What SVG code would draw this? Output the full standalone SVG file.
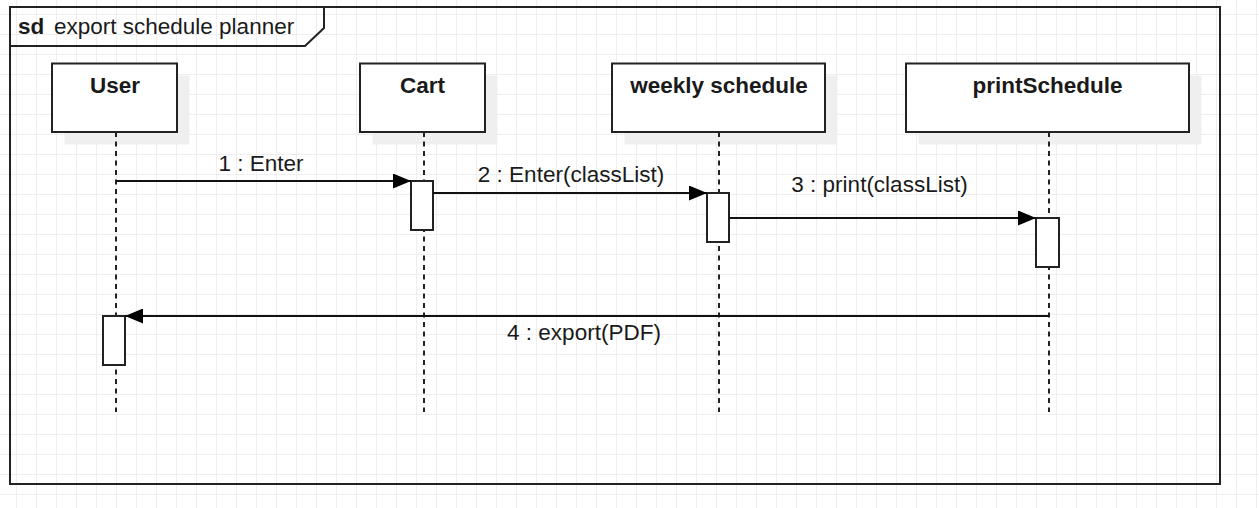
<svg xmlns="http://www.w3.org/2000/svg" width="1259" height="508" viewBox="0 0 1259 508">
  <style>
    .txt { font-family: "Liberation Sans", Arial, sans-serif; fill: #1a1a1a; }
    .head { font-size: 22.5px; font-weight: bold; text-anchor: middle; }
    .msg { font-size: 22.5px; text-anchor: middle; }
    .box { fill: #ffffff; stroke: #222222; stroke-width: 2; }
    .shadow { fill: #efefef; stroke: none; }
    .life { stroke: #222222; stroke-width: 2; stroke-dasharray: 5 4.5; fill: none; }
    .act { fill: #ffffff; stroke: #222222; stroke-width: 2; }
    .line { stroke: #111111; stroke-width: 2; fill: none; }
    .frame { fill: none; stroke: #222222; stroke-width: 2; }
  </style>
  <defs>
    <pattern id="grid" patternUnits="userSpaceOnUse" x="16" y="14" width="20" height="20">
      <path d="M0.5 0 V20 M0 0.5 H20" stroke="#eeeeee" stroke-width="1" fill="none"/>
    </pattern>
    <marker id="arrow" markerUnits="userSpaceOnUse" markerWidth="18" markerHeight="15" refX="18" refY="7.5" orient="auto">
      <path d="M0 0 L18 7.5 L0 15 Z" fill="#000000"/>
    </marker>
  </defs>
  <rect x="0" y="0" width="1259" height="508" fill="#ffffff"/>
  <rect x="0" y="0" width="1259" height="508" fill="url(#grid)"/>

  <g id="frame">
    <rect class="frame" x="10" y="7" width="1210" height="477"/>
    <path class="frame" d="M10 46 H305 L324 28 V7"/>
    <text class="txt" x="18" y="33.5" font-size="22.5" font-weight="bold">sd</text>
    <text class="txt" x="54" y="33.5" font-size="22.5">export schedule planner</text>
  </g>

  <g id="user">
    <rect class="shadow" x="64.5" y="75.5" width="125" height="69"/>
    <line class="life" x1="116" y1="132" x2="116" y2="412"/>
    <rect class="box" x="52" y="63.5" width="125" height="68.5"/>
    <text class="txt head" x="115" y="92.5">User</text>
  </g>

  <g id="cart">
    <rect class="shadow" x="372.5" y="75.5" width="125" height="69"/>
    <line class="life" x1="424" y1="132" x2="424" y2="412"/>
    <rect class="box" x="360" y="63.5" width="125" height="68.5"/>
    <text class="txt head" x="422.5" y="92.5">Cart</text>
  </g>

  <g id="weekly">
    <rect class="shadow" x="624.5" y="75.5" width="213" height="69"/>
    <line class="life" x1="719" y1="132" x2="719" y2="412"/>
    <rect class="box" x="612" y="63.5" width="213" height="68.5"/>
    <text class="txt head" x="719" y="92.5">weekly schedule</text>
  </g>

  <g id="printSchedule">
    <rect class="shadow" x="918.5" y="75.5" width="283" height="69"/>
    <line class="life" x1="1049" y1="132" x2="1049" y2="412"/>
    <rect class="box" x="906" y="63.5" width="283" height="68.5"/>
    <text class="txt head" x="1047.5" y="92.5">printSchedule</text>
  </g>

  <g id="activations">
    <rect class="act" x="411" y="181" width="22" height="49"/>
    <rect class="act" x="707" y="193" width="22" height="49"/>
    <rect class="act" x="1036" y="218" width="23" height="49"/>
    <rect class="act" x="103" y="316" width="22" height="49"/>
  </g>

  <g id="connectors">
    <line class="line" x1="116" y1="181" x2="411" y2="181" marker-end="url(#arrow)"/>
    <text class="txt msg" x="261" y="171">1 : Enter</text>
    <line class="line" x1="433" y1="193" x2="707" y2="193" marker-end="url(#arrow)"/>
    <text class="txt msg" x="571" y="181.5">2 : Enter(classList)</text>
    <line class="line" x1="729" y1="218" x2="1036" y2="218" marker-end="url(#arrow)"/>
    <text class="txt msg" x="879.5" y="191.5">3 : print(classList)</text>
    <line class="line" x1="1049" y1="316" x2="125" y2="316" marker-end="url(#arrow)"/>
    <text class="txt msg" x="584" y="340">4 : export(PDF)</text>
  </g>
</svg>
